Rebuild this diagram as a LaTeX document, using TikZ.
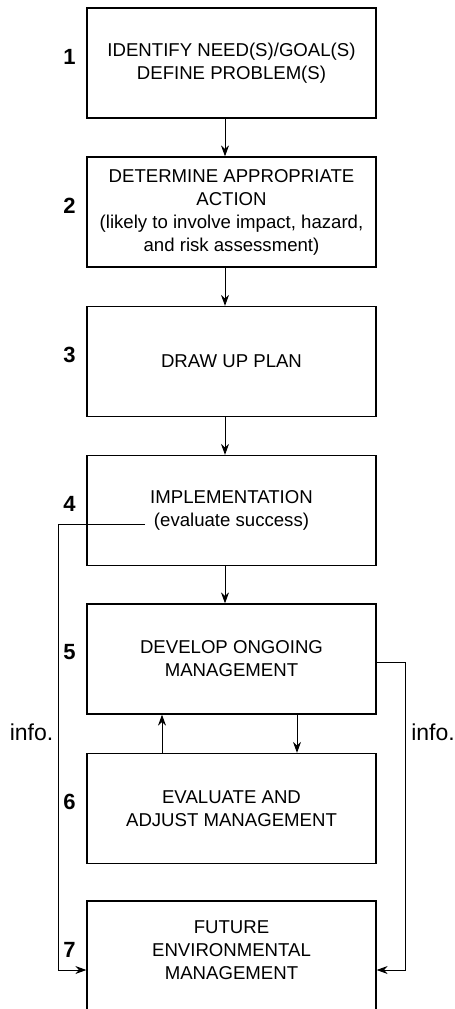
\documentclass[tikz,border=0pt]{standalone}
\usepackage{fontspec}
\setmainfont{Liberation Sans}
\usetikzlibrary{arrows.meta}
\begin{document}
\begin{tikzpicture}[x=0.5pt,y=-0.5pt,
      stagetext/.style={align=center, inner sep=0pt, font=\fontsize{9.3}{11.5}\selectfont},
      stagebox/.style={stagetext, draw, line width=0.65pt, minimum width=144.5pt, minimum height=55pt},
      stagenum/.style={font=\fontsize{11}{13}\selectfont\bfseries},
      sidenote/.style={font=\fontsize{11.5}{13}\selectfont},
      flow/.style={line width=0.5pt, -{Stealth[length=5.5pt,width=4pt,inset=1.8pt]}}]
   \useasboundingbox (0,0) rectangle (455,1009);
   % the seven stages
   \node[stagebox] (need) at (231.5,63) {IDENTIFY NEED(S)/GOAL(S)\\DEFINE PROBLEM(S)};
   \node[stagebox] (action) at (231.5,212) {DETERMINE APPROPRIATE\\ACTION\\(likely to involve impact, hazard,\\and risk assessment)};
   \node[stagebox] (plan) at (231.5,361.5) {DRAW UP PLAN};
   \node[stagebox] (implement) at (231.5,510.5) {IMPLEMENTATION\\(evaluate success)};
   \node[stagebox] (ongoing) at (231.5,659) {DEVELOP ONGOING\\MANAGEMENT};
   \node[stagebox] (adjust) at (231.5,808.5) {EVALUATE AND\\ADJUST MANAGEMENT};
   \node[stagebox] (future) at (231.5,956) {};
   \node[stagetext] (futuretext) at (231.5,950) {FUTURE\\ENVIRONMENTAL\\MANAGEMENT};
   \foreach \n/\y in {1/56.5,2/205.5,3/355,4/504,5/652.5,6/802,7/949.5}
      \node[stagenum] (n\n) at (69.5,\y) {\n};
   % main sequence
   \draw[flow] ([xshift=-3.25pt]need.south) -- ([xshift=-3.25pt]action.north);
   \draw[flow] ([xshift=-3.25pt]action.south) -- ([xshift=-3.25pt]plan.north);
   \draw[flow] ([xshift=-3.25pt]plan.south) -- ([xshift=-3.25pt]implement.north);
   \draw[flow] ([xshift=-3.25pt]implement.south) -- ([xshift=-3.25pt]ongoing.north);
   \draw[flow] ([xshift=-34.75pt]adjust.north) -- ([xshift=-34.75pt]ongoing.south);
   \draw[flow] ([xshift=32.75pt]ongoing.south) -- ([xshift=32.75pt]adjust.north);
   % information loops
   \coordinate (evalinfo) at (145,524);
   \draw[flow] (evalinfo) -- ++(-87,0) |- ([yshift=-7pt]future.west);
   \draw[flow] ([yshift=-1.5pt]ongoing.east) -- ++(29,0) |- ([yshift=-7pt]future.east);
   \node[sidenote] (infoleft) at (31.5,732) {info.};
   \node[sidenote] (inforight) at (433,732) {info.};
\end{tikzpicture}
\end{document}
